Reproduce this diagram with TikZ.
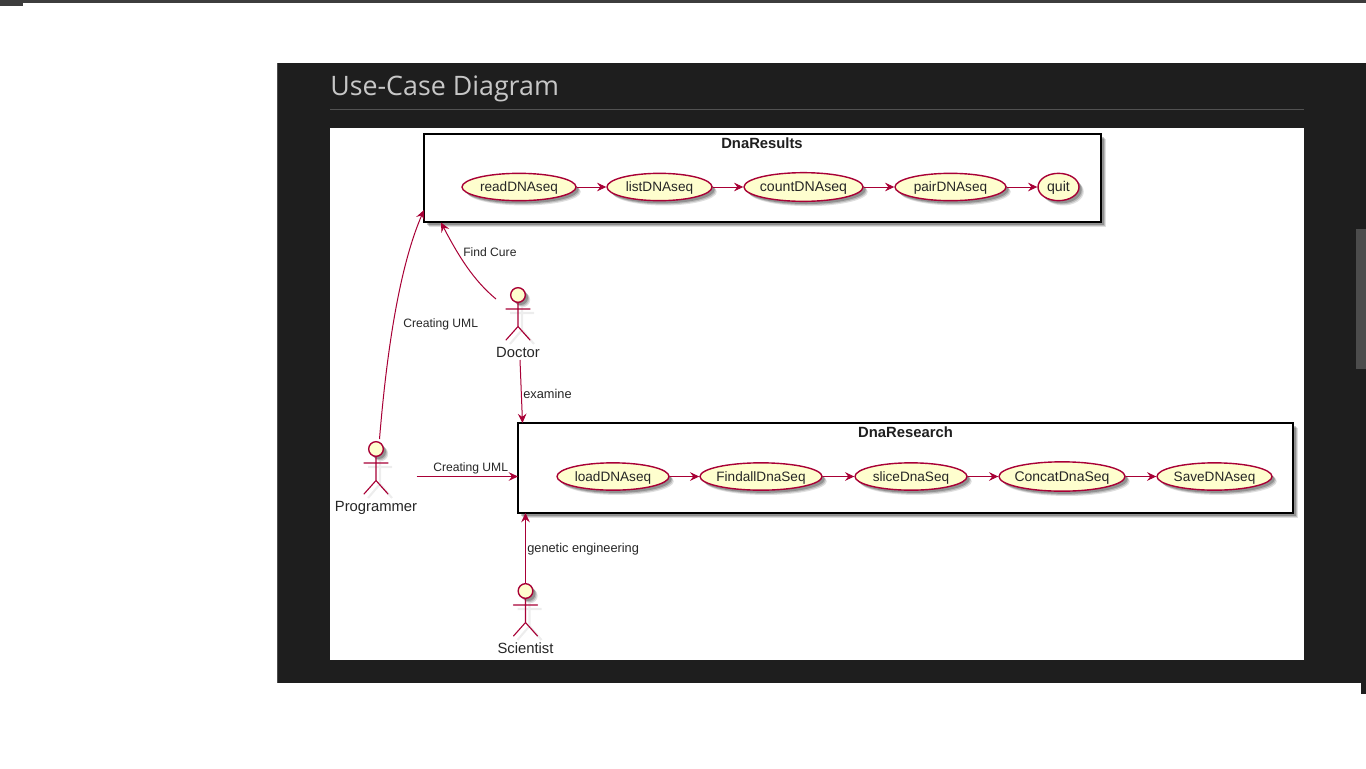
\documentclass[tikz,border=0pt]{standalone}
\usepackage{fontspec}
\setmainfont{Liberation Sans}
\newfontfamily\titlefont{Open Sans}
\usetikzlibrary{arrows.meta,shapes.geometric,shadows}
\definecolor{umlred}{HTML}{A80036}
\definecolor{umlfill}{HTML}{FEFECE}
\definecolor{panel}{HTML}{1E1E1E}
\tikzset{
  x=0.75pt,y=-0.75pt,
  softshadow/.style={drop shadow={shadow xshift=3.6pt,shadow yshift=-3.6pt,opacity=.12,fill=black},
                     drop shadow={shadow xshift=2.8pt,shadow yshift=-2.8pt,opacity=.16,fill=black},
                     drop shadow={shadow xshift=2pt,shadow yshift=-2pt,opacity=.22,fill=black}},
  usecase/.style={ellipse,draw=umlred,line width=1.05pt,fill=umlfill,inner ysep=0pt,inner xsep=-10pt,
                  font=\fontsize{10.2pt}{12pt}\selectfont,text=black!85,text height=7.3pt,text depth=0pt,softshadow},
  package/.style={rectangle,draw=black,line width=.9pt,fill=white,inner sep=0pt,softshadow},
  pkgtitle/.style={font=\fontsize{11.1pt}{13pt}\selectfont\bfseries,text=black!88,inner sep=0pt},
  flow/.style={draw=umlred,line width=.75pt,-{Stealth[length=7pt,width=6.5pt,inset=2.5pt]}},
  edgelabel/.style={font=\fontsize{9.1pt}{11pt}\selectfont,text=black!85,inner sep=0pt},
  edgelabelwide/.style={font=\fontsize{9.6pt}{11pt}\selectfont,text=black!85,inner sep=0pt},
  actorname/.style={font=\fontsize{11.1pt}{13pt}\selectfont,text=black!85,inner sep=0pt},
  actorhead/.style={circle,draw=umlred,line width=1.05pt,fill=umlfill,inner sep=0pt,minimum size=11pt,softshadow},
  actorbody/.style={draw=umlred,line width=.85pt,line cap=round},
  actorshade/.style={draw=black,opacity=.07,line width=1.6pt},
}
\newcommand{\stickfigure}[2]{%
  % #1 name, #2 position of the head centre
  \begin{scope}[shift={#2}]
    \draw[actorshade] (4,12) -- (4,35) (-8,18) -- (16,18) (4,35) -- (-8,49) (4,35) -- (16,49);
    \node[actorhead] (#1head) at (0,0) {};
    \draw[actorbody] (0,7.5) -- (0,31.5) (-12,14) -- (12,14) (0,31.5) -- (-12,45) (0,31.5) -- (12,45);
  \end{scope}}
\begin{document}
\begin{tikzpicture}
\useasboundingbox (0,0) rectangle (1366,768);
\fill[white] (0,0) rectangle (1366,768);
% window chrome
\fill[black!76] (0,0) rectangle (1366,3);
\fill[black!76] (0,0) rectangle (23,6);
\fill[panel] (277,63) rectangle (1366,683);
\fill[panel] (1361,683) rectangle (1366,694);
\fill[black!70] (277,63) rectangle (278,683);
\fill[black!70] (1356,229) rectangle (1366,369);
\node[anchor=base west,inner sep=0pt,text=black!22,font=\titlefont\fontsize{20.1pt}{24pt}\selectfont] (title) at (330,95) {Use-Case Diagram};
\draw[black!68,line width=.6pt] (330,109) -- (1304,109);
\fill[white] (330,128) rectangle (1304,660);

% packages
\node[package,minimum width=507.75pt,minimum height=66pt] (results) at (762.5,178) {};
\node[pkgtitle] (resultstitle) at (762,143) {DnaResults};
\node[package,minimum width=581.25pt,minimum height=67.5pt] (research) at (905.5,468) {};
\node[pkgtitle] (researchtitle) at (905.5,432) {DnaResearch};

% use cases, upper row
\node[usecase,minimum width=85.5pt,minimum height=20.5pt] (read) at (519,187) {readDNAseq};
\node[usecase,minimum width=78.75pt,minimum height=20.5pt] (list) at (659.5,187) {listDNAseq};
\node[usecase,minimum width=89.25pt,minimum height=21.5pt,font=\fontsize{10.6pt}{12pt}\selectfont] (count) at (803.5,187) {countDNAseq};
\node[usecase,minimum width=83.25pt,minimum height=20.5pt] (pair) at (950.5,187) {pairDNAseq};
\node[usecase,minimum width=30.75pt,minimum height=20.5pt,font=\fontsize{10.6pt}{12pt}\selectfont] (quit) at (1058.5,187) {quit};
\draw[flow] (read) -- (list);
\draw[flow] (list) -- (count);
\draw[flow] (count) -- (pair);
\draw[flow] (pair) -- (quit);

% use cases, lower row
\node[usecase,minimum width=84pt,minimum height=20.5pt] (load) at (613,476.5) {loadDNAseq};
\node[usecase,minimum width=91.5pt,minimum height=20.5pt] (findall) at (761,476.5) {FindallDnaSeq};
\node[usecase,minimum width=84pt,minimum height=20.5pt] (slice) at (911,476.5) {sliceDnaSeq};
\node[usecase,minimum width=94.5pt,minimum height=22pt,font=\fontsize{10.5pt}{12pt}\selectfont] (concat) at (1062,476.5) {ConcatDnaSeq};
\node[usecase,minimum width=86.25pt,minimum height=20.5pt] (save) at (1214.5,476.5) {SaveDNAseq};
\draw[flow] (load) -- (findall);
\draw[flow] (findall) -- (slice);
\draw[flow] (slice) -- (concat);
\draw[flow] (concat) -- (save);

% actors
\stickfigure{doctor}{(518,295)}
\node[actorname] (doctorname) at (518,352) {Doctor};
\stickfigure{programmer}{(376,449)}
\node[actorname] (programmername) at (376,507.5) {Programmer};
\stickfigure{scientist}{(525.5,591)}
\node[actorname] (scientistname) at (525.5,648) {Scientist};

% free ends of the connectors
\coordinate (progtop) at (379.5,439);
\coordinate (progright) at (416.5,476.5);
\coordinate (doctorleft) at (496,299);
\coordinate (doctorbottom) at (520,360);
\coordinate (scientisttop) at (525.5,583);
\coordinate (resultsleft) at (424,210);
\coordinate (resultsbottom) at (441,222.5);
\coordinate (researchtop) at (522.5,423);
\coordinate (researchleft) at (518,476.5);
\coordinate (researchbottom) at (525.5,513);

\draw[flow] (progtop) .. controls (386,360) and (398,270) .. (resultsleft);
\draw[flow] (doctorleft) .. controls (473,280) and (458,255) .. (resultsbottom);
\draw[flow] (doctorbottom) -- (researchtop);
\draw[flow] (progright) -- (researchleft);
\draw[flow] (scientisttop) -- (researchbottom);

% connector labels
\node[edgelabel,anchor=west] (l1) at (403,324.2) {Creating UML};
\node[edgelabel,anchor=west] (l2) at (463,252.5) {Find Cure};
\node[edgelabelwide,anchor=west] (l3) at (523,394) {examine};
\node[edgelabel,anchor=west] (l4) at (433,468.2) {Creating UML};
\node[edgelabelwide,anchor=west] (l5) at (527,549.2) {genetic engineering};
\end{tikzpicture}
\end{document}
